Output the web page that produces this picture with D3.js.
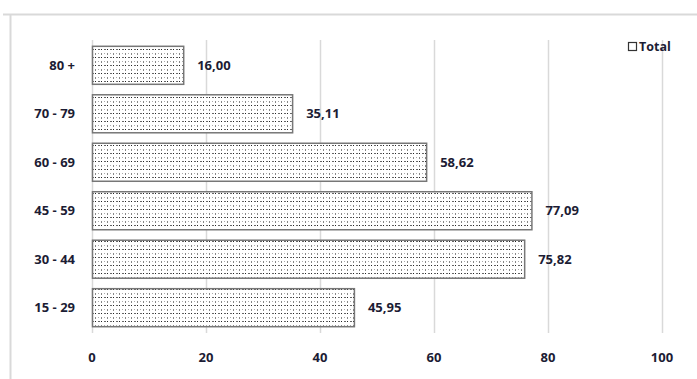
<!DOCTYPE html>
<html>
<head>
<meta charset="utf-8">
<script src="https://cdn.jsdelivr.net/npm/d3@7"></script>
<style>
body { margin: 0; background: #fff; }
text { font-family: "Open Sans", "Liberation Sans", sans-serif; font-weight: bold; fill: #1c1c34; }
</style>
</head>
<body>
<div id="chart"></div>
<script>
var categories = ['80 +', '70 - 79', '60 - 69', '45 - 59', '30 - 44', '15 - 29'];
var values = [16.00, 35.11, 58.62, 77.09, 75.82, 45.95];
var xTicks = [0, 20, 40, 60, 80, 100];
var seriesName = 'Total';

var width = 697, height = 379;
var margin = {top: 40, left: 92};
var chartWidth = 662 - margin.left;
var chartHeight = 333 - margin.top;

var svg = d3.select('#chart').append('svg')
    .attr('width', width)
    .attr('height', height);

// dotted fill like the old spreadsheet pattern
var defs = svg.append('defs');
var pat = defs.append('pattern')
    .attr('id', 'dots')
    .attr('patternUnits', 'userSpaceOnUse')
    .attr('width', 6)
    .attr('height', 8);
pat.append('rect').attr('width', 6).attr('height', 8).attr('fill', '#fff');
pat.append('rect').attr('x', 0).attr('y', 1).attr('width', 2).attr('height', 1).attr('fill', '#666');
pat.append('rect').attr('x', 3).attr('y', 1).attr('width', 1).attr('height', 1).attr('fill', '#222');
pat.append('rect').attr('x', 0).attr('y', 5).attr('width', 1).attr('height', 1).attr('fill', '#aaa');
pat.append('rect').attr('x', 3).attr('y', 5).attr('width', 1).attr('height', 2).attr('fill', '#888');

// outer frame (top and left lines only visible)
svg.append('line')
    .attr('x1', 3).attr('x2', width).attr('y1', 14.5).attr('y2', 14.5)
    .attr('stroke', '#d9d9d9').attr('stroke-width', 2);
svg.append('line')
    .attr('x1', 10.5).attr('x2', 10.5).attr('y1', 14).attr('y2', height)
    .attr('stroke', '#d9d9d9').attr('stroke-width', 2);

var panel = svg.append('g')
    .attr('transform', 'translate(' + margin.left + ',' + margin.top + ')');

var scaleX = d3.scaleLinear().domain([0, 100]).range([0, chartWidth]);
var scaleY = d3.scaleBand().domain(categories).range([0, chartHeight]).paddingInner(0.216).paddingOuter(0.13);

// gridlines
panel.selectAll('line.grid')
    .data(xTicks)
    .enter().append('line')
    .attr('class', 'grid')
    .attr('x1', function(d){ return Math.round(scaleX(d)) + 0.5; })
    .attr('x2', function(d){ return Math.round(scaleX(d)) + 0.5; })
    .attr('y1', 0)
    .attr('y2', chartHeight)
    .attr('stroke', '#d9d9d9')
    .attr('stroke-width', 1.5);

// bars
panel.selectAll('rect.bar')
    .data(values)
    .enter().append('rect')
    .attr('class', 'bar')
    .attr('x', 0.5)
    .attr('y', function(d, i){ return scaleY(categories[i]); })
    .attr('width', function(d){ return scaleX(d); })
    .attr('height', scaleY.bandwidth())
    .attr('fill', 'url(#dots)')
    .attr('stroke', '#777')
    .attr('stroke-width', 1.5);

// value labels
panel.selectAll('text.value')
    .data(values)
    .enter().append('text')
    .attr('class', 'value')
    .attr('x', function(d){ return scaleX(d) + 14; })
    .attr('y', function(d, i){ return scaleY(categories[i]) + scaleY.bandwidth() / 2; })
    .attr('dy', '0.35em')
    .attr('font-size', 13)
    .text(function(d){ return d.toFixed(2).replace('.', ','); });

// category labels
panel.selectAll('text.cat')
    .data(categories)
    .enter().append('text')
    .attr('class', 'cat')
    .attr('x', -17)
    .attr('y', function(d){ return scaleY(d) + scaleY.bandwidth() / 2; })
    .attr('dy', '0.35em')
    .attr('text-anchor', 'end')
    .attr('font-size', 13)
    .text(function(d){ return d; });

// x tick labels
panel.selectAll('text.tick')
    .data(xTicks)
    .enter().append('text')
    .attr('class', 'tick')
    .attr('x', function(d){ return scaleX(d); })
    .attr('y', chartHeight + 29)
    .attr('text-anchor', 'middle')
    .attr('font-size', 13)
    .text(function(d){ return d; });

// legend
var legend = svg.append('g').attr('transform', 'translate(628,47)');
legend.append('rect')
    .attr('x', 0.5).attr('y', -4.5)
    .attr('width', 8).attr('height', 8)
    .attr('fill', '#fff').attr('stroke', '#333').attr('stroke-width', 1.2);
legend.append('text')
    .attr('x', 11).attr('y', 0)
    .attr('dy', '0.35em')
    .attr('font-size', 12.5)
    .text(seriesName);
</script>
</body>
</html>
